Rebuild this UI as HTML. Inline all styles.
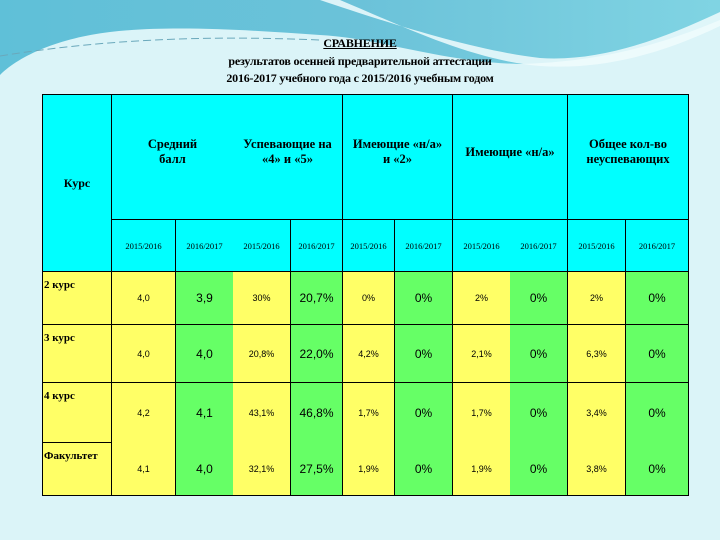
<!DOCTYPE html>
<html><head><meta charset="utf-8"><style>
body{margin:0;width:720px;height:540px;overflow:hidden;background:#dbf4f8;position:relative;font-family:"Liberation Serif","DejaVu Serif",serif}
.c{position:absolute;box-sizing:border-box;display:flex;align-items:center;justify-content:center;text-align:center;color:#000}
.t{position:absolute;left:0;width:720px;text-align:center;font-weight:bold;font-size:12px;font-family:"Liberation Serif",serif;letter-spacing:-0.2px}
</style></head><body>
<svg style="position:absolute;left:0;top:0" width="720" height="90">
<defs><linearGradient id="g" x1="0" x2="1"><stop offset="0" stop-color="#5fc0d8"/><stop offset="0.5" stop-color="#6bc2d9"/><stop offset="1" stop-color="#80d4e3"/></linearGradient></defs>
<path d="M0 0H720V20C660 45 600 62 520 64C440 62 380 38 320 35C250 30 170 25 110 32C60 38 20 55 0 75Z" fill="url(#g)"/>
<path d="M320 0C380 20 470 50 540 58C600 62 660 40 720 12V26C660 55 600 70 540 66C470 60 400 25 340 0Z" fill="#f0fbfd" opacity="0.85"/>
<path d="M0 56C100 40 200 35 320 40" stroke="#6aa8bb" stroke-width="1" stroke-dasharray="8 4" fill="none"/>
</svg>
<div class="t" style="top:36px;text-decoration:underline">СРАВНЕНИЕ</div>
<div class="t" style="top:54px">результатов осенней предварительной аттестации</div>
<div class="t" style="top:71px">2016-2017 учебного года с 2015/2016 учебным годом</div>
<div id="tbl"></div>
<script>
const xs=[42,111,175,233,290,342,394,452,510,567,625,689];
const rows=['2 курс','3 курс','4 курс','Факультет'];
const y2015=[['4,0','30%','0%','2%','2%'],['4,0','20,8%','4,2%','2,1%','6,3%'],['4,2','43,1%','1,7%','1,7%','3,4%'],['4,1','32,1%','1,9%','1,9%','3,8%']];
const y2016=[['3,9','20,7%','0%','0%','0%'],['4,0','22,0%','0%','0%','0%'],['4,1','46,8%','0%','0%','0%'],['4,0','27,5%','0%','0%','0%']];
const groups=['Средний<br>балл','Успевающие на<br>«4» и «5»','Имеющие «н/а»<br>и «2»','Имеющие «н/а»','Общее кол-во<br>неуспевающих'];
const ry=[272,325,383,443,496];
const lines=[111,175,290,342,394,452,567,625];
const T=document.getElementById('tbl');
const B='1.5px solid #000';
function cell(x1,y1,x2,y2,bg,html,css,name){
 const d=document.createElement('div');d.className='c';
 d.style.cssText+=`left:${x1}px;top:${y1}px;width:${x2-x1}px;height:${y2-y1}px;background:${bg};`+(lines.includes(x1)?'border-left:'+B+';':'')+(x2==689?'border-right:'+B+';':'')+(css||'');
 d.innerHTML=html;
 
 
 T.appendChild(d);return d;}
cell(42,94,111,272,'#00ffff','Курс','font-weight:bold;font-size:12px;border-left:'+B+';border-top:'+B+';border-bottom:'+B+';','header-kurs');
const gx=[111,233,342,452,567,689];
groups.forEach((g,i)=>{cell(gx[i],94,gx[i+1],220,'#00ffff',g,'font-size:12.5px;font-weight:bold;padding-bottom:10px;border-top:'+B+';border-bottom:'+B+';','header-group');});
for(let k=0;k<10;k++){
 cell(xs[k+1],220,xs[k+2],272,'#00ffff',k%2?'2016/2017':'2015/2016','font-size:8.5px;border-bottom:'+B+';','year-header');}
rows.forEach((r,i)=>{
 cell(42,ry[i],111,ry[i+1],'#ffff66',r,'justify-content:flex-start;align-items:flex-start;padding:7px 0 0 1px;font-weight:bold;font-size:11px;border-left:'+B+';border-bottom:'+B+';','row-label');
 for(let g=0;g<5;g++){
  const a=xs[1+2*g],b=xs[2+2*g],c=xs[3+2*g];
  const bot=(i==2)?'':'border-bottom:'+B+';';
  cell(a,ry[i],b,ry[i+1],'#ffff66',y2015[i][g],'font-family:Liberation Sans,sans-serif;font-size:9px;'+bot,'value-2015');
  cell(b,ry[i],c,ry[i+1],'#66ff66',y2016[i][g],'font-family:Liberation Sans,sans-serif;font-size:12px;'+bot,'value-2016');
 }
});
</script>
</body></html>
